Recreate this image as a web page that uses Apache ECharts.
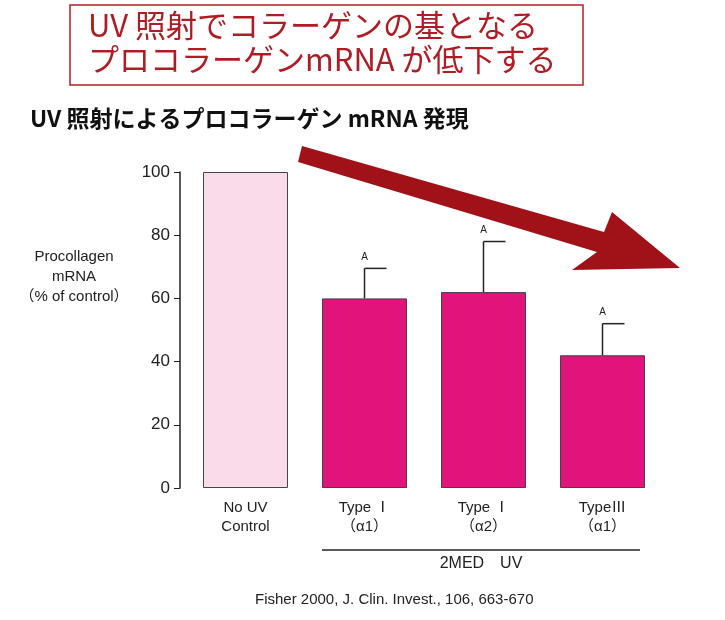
<!DOCTYPE html>
<html><head><meta charset="utf-8">
<script src="https://cdn.jsdelivr.net/npm/echarts@6/dist/echarts.min.js"></script>
<style>html,body{margin:0;padding:0;background:#fff}#c{width:725px;height:620px}</style>
</head><body><div id="c"></div>
<script>
var categories = ['No UV\nControl', 'Type Ⅰ\n（α1）', 'Type Ⅰ\n（α2）', 'TypeⅢ\n（α1）'];
var values = [100, 60, 62, 42];
var errorTop = [null, 69.5, 78, 52];
var sigLabels = ['', 'A', 'A', 'A'];
var yTicks = [0, 20, 40, 60, 80, 100];

var chart = echarts.init(document.getElementById('c'));
var font = '"Liberation Sans", "Noto Sans CJK JP", sans-serif';
var jfont = '"Noto Sans CJK JP", sans-serif';
chart.setOption({
  animation: false,
  grid: {left: 186, width: 476, top: 172, height: 316},
  xAxis: {type: 'category', data: categories,
    axisLine: {show: false}, axisTick: {show: false},
    axisLabel: {color: '#222', fontSize: 15, fontFamily: font, lineHeight: 19, margin: 10}},
  yAxis: {type: 'value', min: 0, max: 100, interval: 20, offset: 6,
    axisLine: {show: true, lineStyle: {color: '#222', width: 1.5}},
    axisTick: {show: true, inside: false, length: 6, lineStyle: {color: '#222'}},
    splitLine: {show: false},
    axisLabel: {color: '#222', fontSize: 17, fontFamily: font, margin: 10}},
  series: [
    {type: 'bar', barWidth: 85, z: 2,
     data: values.map(function(v, i){
       return {value: v, itemStyle: i === 0 ? {color: '#fadbe9', borderColor: '#444', borderWidth: 1} : {color: '#e0147a', borderColor: '#444', borderWidth: 1}};
     })},
    {type: 'custom', z: 3,
     data: errorTop.map(function(e, i){ return [i, values[i], e === null ? values[i] : e]; }),
     renderItem: function(params, api){
       var i = api.value(0);
       if (errorTop[i] === null) return null;
       var p0 = api.coord([i, api.value(1)]);
       var p1 = api.coord([i, api.value(2)]);
       return {type: 'group', children: [
         {type: 'line', shape: {x1: p0[0], y1: p0[1], x2: p1[0], y2: p1[1]}, style: {stroke: '#222', lineWidth: 1.5}},
         {type: 'line', shape: {x1: p1[0], y1: p1[1], x2: p1[0] + 22, y2: p1[1]}, style: {stroke: '#222', lineWidth: 1.5}},
         {type: 'text', x: p1[0], y: p1[1] - 6, style: {text: sigLabels[i], fill: '#222', fontSize: 10, fontFamily: font, align: 'center', verticalAlign: 'bottom'}}
       ]};
     }}
  ],
  graphic: [
    {type: 'rect', shape: {x: 70, y: 5, width: 513, height: 80}, style: {fill: '#fff', stroke: '#b02025', lineWidth: 1.5}},
    {type: 'text', x: 88, y: 10, style: {text: 'UV 照射でコラーゲンの基となる', fill: '#b01c24', fontSize: 31, fontFamily: jfont}},
    {type: 'text', x: 88, y: 44, style: {text: 'プロコラーゲンmRNA が低下する', fill: '#b01c24', fontSize: 31, fontFamily: jfont}},
    {type: 'text', x: 30, y: 107, style: {text: 'UV 照射によるプロコラーゲン mRNA 発現', fill: '#111', fontSize: 23, fontWeight: 'bold', fontFamily: jfont}},
    {type: 'polygon', z: 10, shape: {points: [[302,146],[604,232],[612,212],[680,268],[572,270],[597,252],[298,162]]}, style: {fill: '#a01218'}},
    {type: 'text', x: 74, y: 247, style: {text: 'Procollagen\nmRNA\n（% of control）', fill: '#222', fontSize: 15, lineHeight: 20, align: 'center', fontFamily: font}},
    {type: 'line', shape: {x1: 322, y1: 550, x2: 640, y2: 550}, style: {stroke: '#222', lineWidth: 1.5}},
    {type: 'text', x: 481, y: 556, style: {text: '2MED　UV', fill: '#222', fontSize: 16, align: 'center', fontFamily: font}},
    {type: 'text', x: 255, y: 592, style: {text: 'Fisher 2000, J. Clin. Invest., 106, 663-670', fill: '#222', fontSize: 15, fontFamily: font}}
  ]
});
</script></body></html>
